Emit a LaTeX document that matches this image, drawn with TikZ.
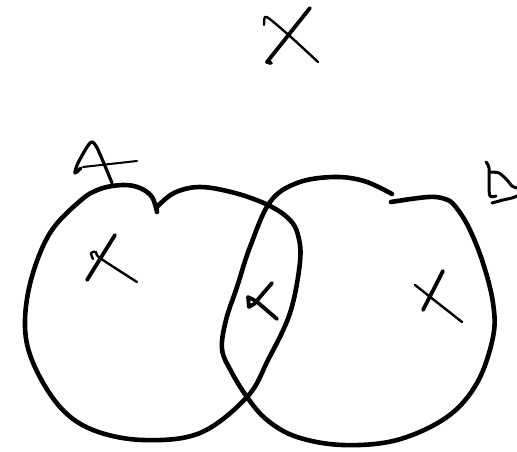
\documentclass[tikz,border=0pt]{standalone}
\begin{document}
\begin{tikzpicture}[x=1pt,y=-1pt,line cap=round,line join=round,
  ring/.style={line width=4.6pt},
  thick mark/.style={line width=3.8pt},
  thin mark/.style={line width=2.4pt}]
\useasboundingbox[fill=white] (0,0) rectangle (517,452);
% circle A
\draw[ring] plot[smooth,tension=0.6] coordinates {(157,212) (152,197) (140,188) (123,185) (100,189) (80,201) (50,233) (31,280) (25,327) (34,365) (60,407) (93,430) (143,440) (200,433) (247,397) (268,360) (290,313) (300,262) (298,235) (289,219) (268,205) (235,193) (200,187) (174,193) (157,207)};
% circle B
\draw[ring] plot[smooth,tension=0.6] coordinates {(392,194) (364,181) (333,177) (297,183) (270,202) (250,247) (237,287) (226,320) (222,349) (231,371) (247,397) (267,420) (297,437) (343,445) (397,440) (447,417) (477,383) (493,337) (493,303) (483,263) (469,228) (455,206) (445,199) (428,197) (391,202)};
% letter A
\draw[line width=3.2pt] plot[smooth,tension=0.5] coordinates {(81,168) (75,173) (78,163) (90,143) (96,146) (105,166) (112,183)};
\draw[line width=2pt] (83,167) -- (137,161);
% letter B
\draw[line width=3pt] plot[smooth,tension=0.5] coordinates {(486,162) (489,168) (489,185) (490,196) (496,196)};
\draw[line width=3pt] plot[smooth,tension=0.5] coordinates {(490,172) (499,173) (507,180) (512,186) (517,188)};
\draw[line width=3pt] plot[smooth,tension=0.5] coordinates {(492,203) (503,200) (512,198) (517,196)};
% X at top
\draw[thick mark] (310,8) -- (267,62) -- (271,63);
\draw[thin mark] plot[smooth,tension=0.5] coordinates {(264,25) (265,17) (271,20) (292,38) (318,62)};
% X in A
\draw[thick mark] (115,235) -- (87,280);
\draw[thin mark] plot[smooth,tension=0.5] coordinates {(93,259) (91,253) (96,252) (100,258) (137,282)};
% X in intersection
\draw[thick mark] (272,283) -- (254,304) -- (249,307) -- (248,297) -- (256,301) -- (277,319);
% X in B
\draw[thick mark] (443,271) -- (423,310);
\draw[thin mark] (415,285) -- (462,322);
\end{tikzpicture}
\end{document}
